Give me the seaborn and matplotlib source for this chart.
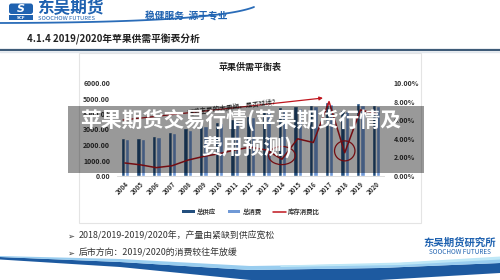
import numpy as np
import pandas as pd
import seaborn as sns
import matplotlib
matplotlib.use("Agg")
import matplotlib.pyplot as plt
from matplotlib.patches import Rectangle, Ellipse, FancyBboxPatch, Patch
from matplotlib.lines import Line2D

# ---------------- data ----------------
years = ["2004", "2005", "2006", "2007", "2008", "2009", "2010", "2011", "2012",
         "2013", "2014", "2015", "2016", "2017", "2018", "2019", "2020"]
supply = [2430, 2440, 2550, 2820, 3080, 3300, 3500, 3700, 3900,
          4250, 4450, 4500, 4600, 4800, 4250, 4700, 4580]
consumption = [2380, 2400, 2500, 2760, 3000, 3230, 3420, 3600, 3800,
               4150, 4350, 4400, 4500, 4650, 4200, 4600, 4500]
stock_ratio = [1.4, 1.2, 0.9, 1.1, 1.7, 2.1, 2.4, 2.8, 3.1,
               2.8, 1.8, 4.0, 3.6, 8.0, 2.5, 7.1, 6.7]   # percent
series_names = ["总供应", "总消费", "库存消费比"]
left_ticks = [0, 1000, 2000, 3000, 4000, 5000, 6000]
right_ticks = [0, 2, 4, 6, 8, 10]
chart_title = "苹果供需平衡表"
slide_title = "4.1.4 2019/2020年苹果供需平衡表分析"
note_text = "需求主导的大周期，是否延续？"
bullets = ["2018/2019-2019/2020年，产量由紧缺到供应宽松",
           "后市方向：2019/2020的消费较往年放缓"]
overlay_lines = ["苹果期货交易行情(苹果期货行情及", "费用预测)"]

DARK = "#234f7e"
LIGHT = "#7099d6"
RED = "#c0161e"
BLUE = "#1f62b0"

sns.set_theme(style="white")
plt.rcParams["font.family"] = ["Noto Sans CJK SC", "DejaVu Sans"]
plt.rcParams["axes.unicode_minus"] = False

W, H = 500, 280
fig = plt.figure(figsize=(5, 2.8), dpi=100)
fig.patch.set_facecolor("white")

# background / slide axes in pixel coordinates
bg = fig.add_axes([0, 0, 1, 1])
bg.set_xlim(0, W); bg.set_ylim(H, 0); bg.axis("off")

# header logo
bg.add_patch(FancyBboxPatch((9, 3.5), 24, 10.5, boxstyle="round,pad=0,rounding_size=2.5",
                            fc=BLUE, ec="none"))
bg.text(21, 8.8, "S", color="white", fontsize=8, fontweight="bold", style="italic",
        ha="center", va="center", family=["DejaVu Sans"])
bg.add_patch(Rectangle((9, 15), 24, 5, fc=BLUE, ec="none"))
bg.text(21, 17.6, "SCF", color="white", fontsize=3, fontweight="bold", ha="center", va="center",
        family=["DejaVu Sans"])
bg.text(37, 8.5, "东吴期货", fontsize=12, fontweight="bold", color=BLUE, va="center")
bg.text(37.5, 18.5, "SOOCHOW FUTURES", fontsize=4.2, color=BLUE, va="center")
bg.text(145, 16, "稳健服务  源于专业", fontsize=7, fontweight="bold", color=BLUE, va="center")

# header swoosh (quadratic bezier)
t = np.linspace(0, 1, 100)
P0, P1, P2 = np.array([0, 23.0]), np.array([215, 22.5]), np.array([254, 7.0])
cx = (1 - t) ** 2 * P0[0] + 2 * (1 - t) * t * P1[0] + t ** 2 * P2[0]
cy = (1 - t) ** 2 * P0[1] + 2 * (1 - t) * t * P1[1] + t ** 2 * P2[1]
bg.plot(cx, cy, color="#2a6cb8", lw=1.3, solid_capstyle="round")

# slide title and divider
bg.text(27, 39, slide_title, fontsize=7, fontweight="bold", color="#222222", va="center")
bg.plot([0, W], [50, 50], color="#3e5b78", lw=1.6)
bg.plot([0, W], [52, 52], color="#e3e8ee", lw=1.0)

# chart panel
bg.add_patch(Rectangle((79, 52.5), 342, 170, fc="white", ec="#e4e4e4", lw=0.8))
bg.text(250, 67, chart_title, fontsize=6.5, fontweight="bold", ha="center", va="center",
        color="#222222")

# bullets
for i, b in enumerate(bullets):
    yy = 236 + i * 17
    bg.text(67, yy, "➢", fontsize=6, color="#333333", va="center",
            family=["DejaVu Sans"])
    bg.text(79, yy, b, fontsize=6.4, color="#333333", va="center")

# footer logo
bg.text(460, 242.5, "东吴期货研究所", fontsize=7.5, fontweight="bold", color=BLUE,
        ha="center", va="center")
bg.text(460, 251.5, "SOOCHOW FUTURES", fontsize=4.6, color=BLUE, ha="center", va="center")

# bottom swoosh
xs = np.linspace(0, W, 200)
def bez(xp, yp, x):
    return np.interp(x, xp, yp)
up = bez([0, 120, 250, 380, 500], [257, 262, 270, 268, 263], xs)
lo = bez([0, 120, 250, 380, 500], [259.5, 267, 280, 280, 273], xs)
bg.fill_between(xs, up, lo, color="#1d5aa0", lw=0)
up2 = bez([0, 120, 250, 380, 500], [256, 259, 266, 264, 258], xs)
bg.fill_between(xs, up2, up, color="#8ec8ee", lw=0, alpha=0.9)
xs3 = np.linspace(280, 500, 100)
bg.fill_between(xs3, bez([280, 400, 500], [265, 262, 256], xs3),
                bez([280, 400, 500], [266.5, 264.5, 259], xs3), color="#bfe8f7", lw=0)

# ---------------- chart ----------------
L, R, T, B = 117, 384, 83, 176
ax = fig.add_axes([L / W, 1 - B / H, (R - L) / W, (B - T) / H])
ax.patch.set_alpha(0)

df = pd.DataFrame({
    "year": years + years,
    "series": [series_names[0]] * len(years) + [series_names[1]] * len(years),
    "value": supply + consumption,
})
sns.barplot(data=df, x="year", y="value", hue="series", hue_order=series_names[:2],
            palette=[DARK, LIGHT], width=0.55, gap=0, saturation=1, legend=False, ax=ax)
ax.set_ylim(0, 6000)
ax.set_xlim(-0.5, len(years) - 0.5)
ax.set_xlabel(""); ax.set_ylabel("")
ax.set_yticks(left_ticks)
ax.set_yticklabels([f"{v:.2f}" for v in left_ticks], fontsize=5, fontweight="bold",
                   color="#333333")
ax.set_xticks(range(len(years)))
ax.set_xticklabels(years, rotation=45, ha="right", rotation_mode="anchor",
                   fontsize=4.5, fontweight="bold", color="#333333")
ax.tick_params(axis="both", length=0, pad=3)
ax.tick_params(axis="y", pad=5)
for s in ["top", "right", "left"]:
    ax.spines[s].set_visible(False)
ax.spines["bottom"].set_color("#d9d9d9")
ax.spines["bottom"].set_linewidth(0.6)

ax2 = ax.twinx()
sns.lineplot(x=np.arange(len(years)), y=stock_ratio, color=RED, lw=1.1, ax=ax2)
ax2.set_ylim(0, 10)
ax2.set_xlim(-0.5, len(years) - 0.5)
ax2.set_yticks(right_ticks)
ax2.set_yticklabels([f"{v:.2f}%" for v in right_ticks], fontsize=5, fontweight="bold",
                    color="#333333")
ax2.tick_params(axis="y", length=0, pad=7)
for s in ["top", "right", "left", "bottom"]:
    ax2.spines[s].set_visible(False)
ax2.set_ylabel("")

# highlight circles on the low points
i14 = years.index("2014"); i18 = years.index("2018")
ax2.add_patch(Ellipse((i14, stock_ratio[i14] + 0.4), 1.7, 1.95, fill=False, ec=RED, lw=0.9))
ax2.add_patch(Ellipse((i18, stock_ratio[i18] + 0.2), 1.3, 2.15, fill=False, ec=RED, lw=0.9))

# legend
handles = [Patch(fc=DARK, ec="none"), Patch(fc=LIGHT, ec="none"),
           Line2D([], [], color=RED, lw=1.1)]
fig.legend(handles, series_names, loc="center", bbox_to_anchor=(251 / W, 1 - 211.5 / H),
           ncol=3, frameon=False, prop={"size": 4.6, "weight": "bold"},
           handlelength=2.0, handleheight=0.5, handletextpad=0.3, columnspacing=1.8,
           labelcolor="#333333")

# ---------------- overlay ----------------
ov = fig.add_axes([0, 0, 1, 1])
ov.set_xlim(0, W); ov.set_ylim(H, 0); ov.axis("off")
ov.annotate("", xy=(323, 98), xytext=(123, 120),
            arrowprops=dict(arrowstyle="-|>", color=RED, lw=0.9, mutation_scale=5,
                            shrinkA=0, shrinkB=0))
ov.text(233, 107.5, note_text, fontsize=4.8, rotation=7, ha="center", va="center",
        rotation_mode="anchor", color="#222222")

ov.add_patch(Rectangle((68, 106), 356, 67, fc="black", alpha=0.4, ec="none", zorder=5))
ov.text(241, 120.5, overlay_lines[0], fontsize=15, fontweight="bold", color="white",
        ha="center", va="center", zorder=6)
ov.text(247, 148, overlay_lines[1], fontsize=15, fontweight="bold", color="white",
        ha="center", va="center", zorder=6)

fig.savefig("out.png", dpi=100, facecolor="white")
